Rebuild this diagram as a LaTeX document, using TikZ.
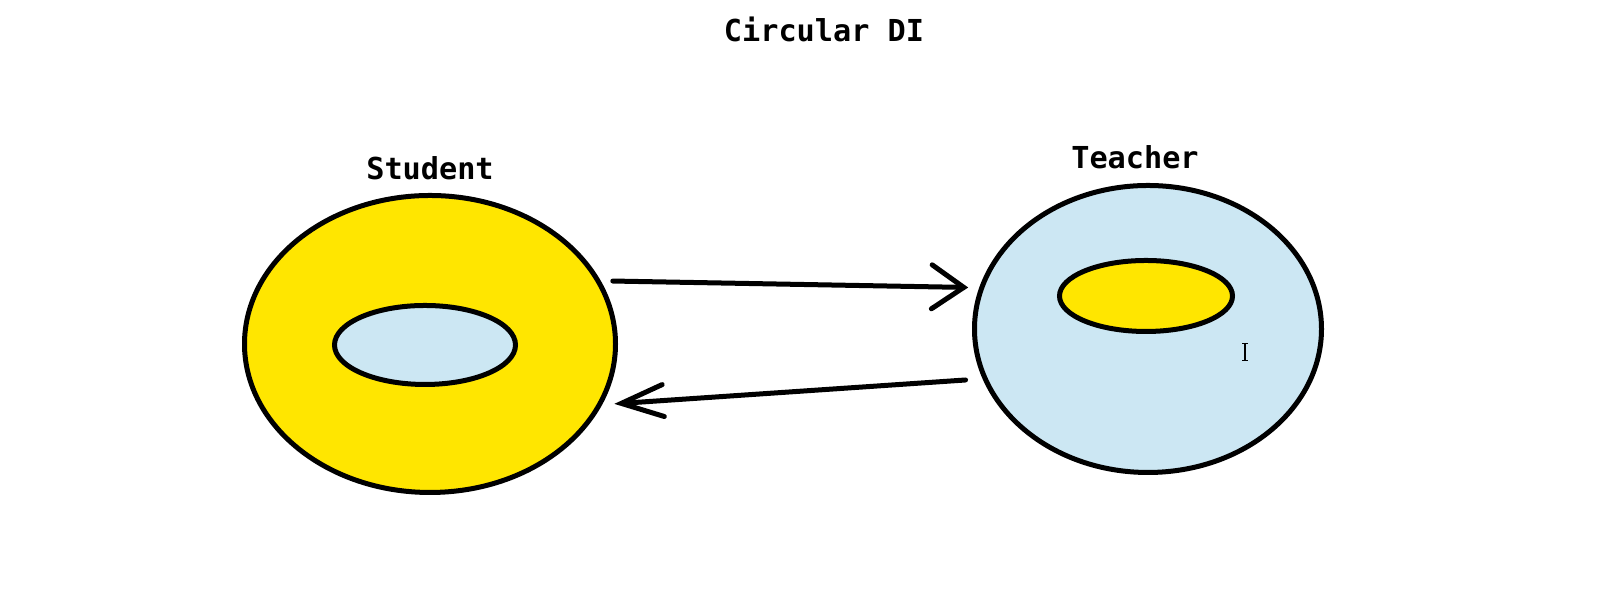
\documentclass[tikz,border=0pt]{standalone}
\usepackage{fontspec}
\setmonofont{DejaVu Sans Mono}
\usetikzlibrary{arrows.meta}
\usetikzlibrary{shapes.geometric}
\usetikzlibrary{positioning}

\definecolor{paintyellow}{RGB}{255,230,0}
\definecolor{paintblue}{RGB}{204,231,243}

\tikzset{
  ring/.style={ellipse, draw, line width=0.05cm, inner sep=0pt},
  tag/.style={font=\ttfamily\bfseries\fontsize{8.6}{10}\selectfont},
  flow/.style 2 args={line width=0.05cm, line cap=round,
    -{Straight Barb[length=#1, width=#2, line cap=round]}}
}

\begin{document}
\begin{tikzpicture}
    \useasboundingbox (0,0) rectangle (16.16,5.93);
    \node[tag] (title) at (8.24,5.64) {Circular DI};
    % student side
    \node[ring, fill=paintyellow, minimum width=3.71cm, minimum height=2.97cm, outer sep=0.13cm] (student) at (4.30,2.49) {};
    \node[ring, fill=paintblue, minimum width=1.81cm, minimum height=0.79cm] (studentcore) at (4.25,2.48) {};
    \node[tag] (studentlabel) at (4.30,4.25) {Student};
    % teacher side
    \node[ring, fill=paintblue, minimum width=3.47cm, minimum height=2.87cm, outer sep=0.13cm] (teacher) at (11.48,2.64) {};
    \node[ring, fill=paintyellow, minimum width=1.73cm, minimum height=0.71cm] (teachercore) at (11.46,2.97) {};
    \node[tag] (teacherlabel) at (11.35,4.36) {Teacher};
    % arrows
    \draw[flow={0.32cm}{0.44cm}] (student.19.6) -- (teacher.167.8);
    \draw[flow={0.42cm}{0.32cm}, shorten <=0.06cm] (teacher.196.4) -- (student.-18.4);
    % cursor
    \draw[line width=0.012cm] (12.45,2.325) -- (12.45,2.495)
      (12.42,2.325) -- (12.48,2.325) (12.42,2.495) -- (12.48,2.495);
\end{tikzpicture}
\end{document}
